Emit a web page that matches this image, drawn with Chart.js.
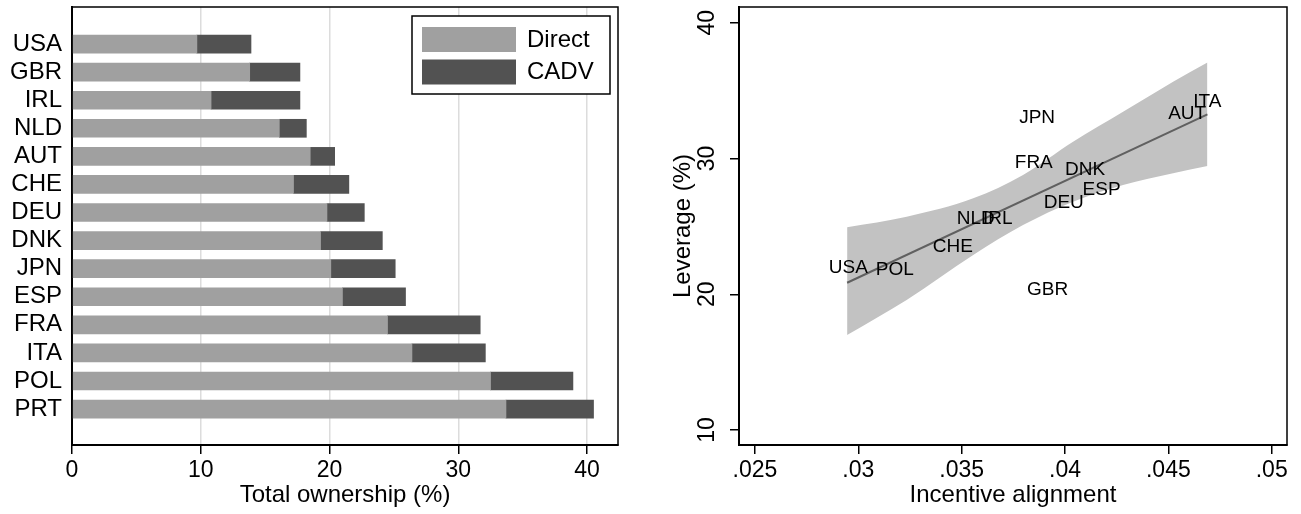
<!DOCTYPE html>
<html>
<head>
<meta charset="utf-8">
<script src="https://cdn.jsdelivr.net/npm/chart.js@4/dist/chart.umd.min.js"></script>
<style>
html, body { margin: 0; padding: 0; background: #fff; }
#wrap { position: relative; width: 1301px; height: 514px; }
#own { position: absolute; left: 0; top: 0; }
#lev { position: absolute; left: 640px; top: 0; }
</style>
</head>
<body>
<div id="wrap">
  <canvas id="own" width="640" height="514"></canvas>
  <canvas id="lev" width="661" height="514"></canvas>
</div>
<script>
// ownership split by country (%)
var countries = ['USA', 'GBR', 'IRL', 'NLD', 'AUT', 'CHE', 'DEU', 'DNK', 'JPN', 'ESP', 'FRA', 'ITA', 'POL', 'PRT'];
var direct = [9.7, 13.8, 10.8, 16.1, 18.5, 17.2, 19.8, 19.3, 20.1, 21.0, 24.5, 26.4, 32.5, 33.7];
var cadv = [4.2, 3.9, 6.9, 2.1, 1.9, 4.3, 2.9, 4.8, 5.0, 4.9, 7.2, 5.7, 6.4, 6.8];
var ownTicks = [0, 10, 20, 30, 40];

// leverage against incentive alignment
var names = ['USA', 'POL', 'CHE', 'NLD', 'IRL', 'DEU', 'ESP', 'DNK', 'FRA', 'JPN', 'AUT', 'ITA', 'GBR'];
var alignment = [0.02952, 0.03177, 0.03457, 0.03568, 0.03675, 0.03994, 0.04177, 0.04097, 0.03849, 0.03865, 0.04591, 0.04689, 0.03916];
var leverage = [22.05, 21.89, 23.61, 25.66, 25.66, 26.85, 27.83, 29.30, 29.79, 33.11, 33.42, 34.27, 20.46];

// linear fit and its confidence band
var fitX = [0.02946, 0.04689];
var fitY = [20.85, 33.25];
var bandX = [0.02946, 0.03234, 0.03556, 0.03797, 0.04039, 0.04281, 0.04523, 0.04689];
var bandHi = [24.93, 25.71, 27.07, 28.79, 31.24, 33.45, 35.66, 37.08];
var bandLo = [17.00, 19.58, 22.89, 25.10, 26.82, 28.05, 28.91, 29.45];
var alignTicks = [0.025, 0.03, 0.035, 0.04, 0.045, 0.05];
var levTicks = [10, 20, 30, 40];

var FONT = '"Liberation Sans", Arial, Helvetica, sans-serif';
Chart.defaults.font.family = FONT;
Chart.defaults.color = '#000';
Chart.defaults.animation = false;

function pts(xs, ys) {
  return xs.map(function (x, i) { return { x: x, y: ys[i] }; });
}

var rows = countries.map(function (_, i) { return i; });

// box around the plot region
var framePlugin = {
  id: 'frame',
  afterDraw: function (chart) {
    var a = chart.chartArea, c = chart.ctx;
    c.save();
    c.strokeStyle = '#000';
    c.lineWidth = 1.5;
    c.strokeRect(a.left, a.top, a.right - a.left, a.bottom - a.top);
    c.restore();
  }
};

// legend drawn inside the plot, top right, with a border
var boxLegend = {
  id: 'boxLegend',
  afterDraw: function (chart) {
    var a = chart.chartArea, c = chart.ctx;
    var w = 198, h = 78, x0 = a.right - 8 - w, y0 = a.top + 9;
    c.save();
    c.fillStyle = '#fff';
    c.fillRect(x0, y0, w, h);
    c.strokeStyle = '#000';
    c.lineWidth = 1.5;
    c.strokeRect(x0, y0, w, h);
    c.font = '24px ' + FONT;
    c.textBaseline = 'middle';
    chart.data.datasets.forEach(function (ds, i) {
      var y = y0 + 11 + i * 32.5;
      c.fillStyle = ds.backgroundColor;
      c.fillRect(x0 + 10, y, 94, 25);
      c.fillStyle = '#000';
      c.fillText(ds.label, x0 + 115, y + 13);
    });
    c.restore();
  }
};

new Chart(document.getElementById('own'), {
  type: 'bar',
  data: {
    datasets: [
      { label: 'Direct', data: pts(direct, rows), backgroundColor: '#a0a0a0' },
      { label: 'CADV', data: pts(cadv, rows), backgroundColor: '#525252' }
    ]
  },
  options: {
    responsive: false,
    indexAxis: 'y',
    barThickness: 18,
    layout: { padding: { top: 7, right: 22, left: 0, bottom: 0 } },
    plugins: { legend: { display: false }, tooltip: { enabled: false } },
    scales: {
      x: {
        type: 'linear',
        stacked: true,
        min: 0,
        max: 42.4,
        afterBuildTicks: function (s) { s.ticks = ownTicks.map(function (v) { return { value: v }; }); },
        afterFit: function (s) { s.height = 69; s.paddingLeft = 0; s.paddingRight = 0; },
        ticks: { font: { size: 23 }, padding: 3, maxRotation: 0, autoSkip: false },
        grid: {
          color: function (ctx) { return ctx.tick && ctx.tick.value === 0 ? 'rgba(0,0,0,0)' : '#dcdcdc'; },
          lineWidth: 1.5,
          tickColor: '#000',
          tickLength: 9
        },
        border: { color: '#000', width: 2 },
        title: { display: true, text: 'Total ownership (%)', font: { size: 24 }, padding: { top: 0, bottom: 4 } }
      },
      y: {
        type: 'linear',
        stacked: true,
        offset: false,
        reverse: true,
        min: -1.32,
        max: 14.28,
        afterBuildTicks: function (s) { s.ticks = rows.map(function (i) { return { value: i }; }); },
        afterFit: function (s) { s.width = 72; s.paddingTop = 0; s.paddingBottom = 0; },
        ticks: { font: { size: 24 }, padding: 10, autoSkip: false, callback: function (v) { return countries[v]; } },
        grid: { display: false, drawTicks: false, offset: false },
        border: { color: '#000', width: 2 }
      }
    }
  },
  plugins: [framePlugin, boxLegend]
});

// country codes written at each point
var nameLabels = {
  id: 'nameLabels',
  afterDatasetsDraw: function (chart) {
    var meta = chart.getDatasetMeta(1), c = chart.ctx;
    c.save();
    c.font = '19px ' + FONT;
    c.fillStyle = '#000';
    c.textAlign = 'center';
    c.textBaseline = 'alphabetic';
    meta.data.forEach(function (pt, i) {
      c.fillText(names[i], pt.x, pt.y + 6.8);
    });
    c.restore();
  }
};

// y tick labels turned to read upwards
var sideTicks = {
  id: 'sideTicks',
  afterDraw: function (chart) {
    var s = chart.scales.y, c = chart.ctx;
    c.save();
    c.font = '23px ' + FONT;
    c.fillStyle = '#000';
    c.textAlign = 'center';
    c.textBaseline = 'middle';
    s.ticks.forEach(function (t) {
      c.save();
      c.translate(s.right - 31, s.getPixelForValue(t.value));
      c.rotate(-Math.PI / 2);
      c.fillText(String(t.value), 0, 0);
      c.restore();
    });
    c.restore();
  }
};

new Chart(document.getElementById('lev'), {
  type: 'scatter',
  data: {
    datasets: [
      { data: pts(fitX, fitY), showLine: true, borderColor: '#606060', borderWidth: 2, pointRadius: 0 },
      { data: pts(alignment, leverage), pointRadius: 0, showLine: false },
      { data: pts(bandX, bandHi), showLine: true, borderWidth: 0, pointRadius: 0, cubicInterpolationMode: 'monotone', fill: false },
      { data: pts(bandX, bandLo), showLine: true, borderWidth: 0, pointRadius: 0, cubicInterpolationMode: 'monotone', fill: '-1', backgroundColor: '#c2c2c2' }
    ]
  },
  options: {
    responsive: false,
    layout: { padding: { top: 7, right: 14, left: 0, bottom: 0 } },
    plugins: { legend: { display: false }, tooltip: { enabled: false } },
    scales: {
      x: {
        type: 'linear',
        min: 0.02423,
        max: 0.05074,
        afterBuildTicks: function (s) { s.ticks = alignTicks.map(function (v) { return { value: v }; }); },
        afterFit: function (s) { s.height = 69; s.paddingLeft = 0; s.paddingRight = 0; },
        ticks: {
          font: { size: 23 },
          padding: 3,
          maxRotation: 0,
          callback: function (v) { return String(+v.toFixed(3)).replace(/^0/, ''); }
        },
        grid: { drawOnChartArea: false, tickColor: '#000', tickLength: 9, lineWidth: 1.5 },
        border: { color: '#000', width: 2 },
        title: { display: true, text: 'Incentive alignment', font: { size: 24 }, padding: { top: 0, bottom: 4 } }
      },
      y: {
        type: 'linear',
        min: 8.9,
        max: 41.16,
        afterBuildTicks: function (s) { s.ticks = levTicks.map(function (v) { return { value: v }; }); },
        afterFit: function (s) { s.width = 99; s.paddingTop = 0; s.paddingBottom = 0; },
        ticks: { display: false },
        grid: { drawOnChartArea: false, tickColor: '#000', tickLength: 9, lineWidth: 1.5 },
        border: { color: '#000', width: 2 },
        title: { display: true, text: 'Leverage (%)', font: { size: 24 }, padding: { top: 28.6, bottom: 0 } }
      }
    }
  },
  plugins: [framePlugin, nameLabels, sideTicks]
});
</script>
</body>
</html>
